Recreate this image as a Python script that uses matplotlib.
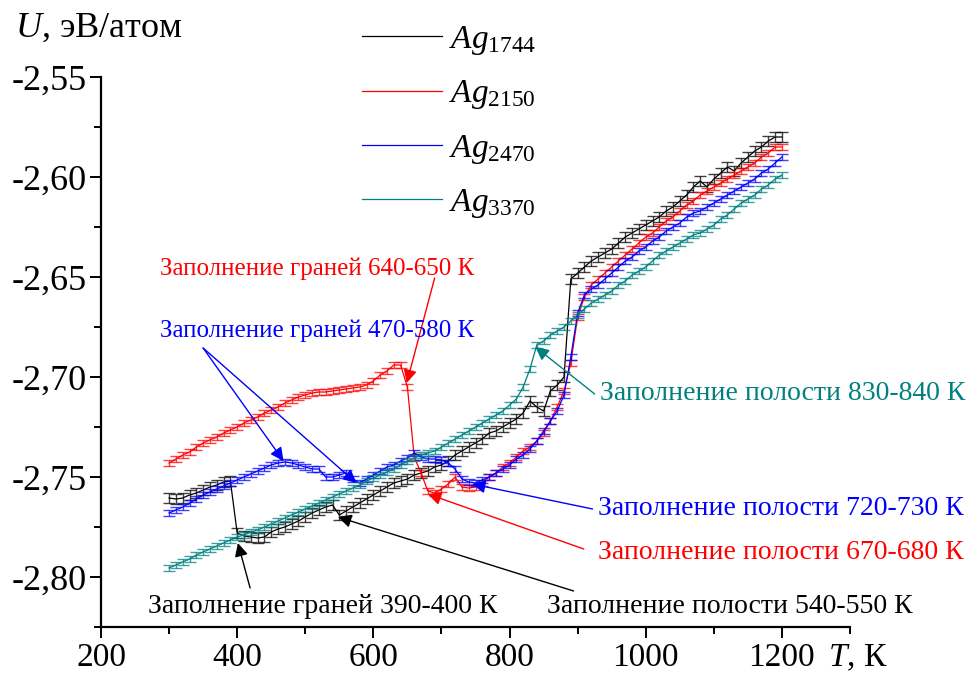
import matplotlib
matplotlib.use("Agg")
import matplotlib.pyplot as plt
from matplotlib.ticker import MultipleLocator, FuncFormatter

plt.rcParams['font.family'] = ['Liberation Serif', 'DejaVu Serif']
plt.rcParams['mathtext.fontset'] = 'custom'
plt.rcParams['mathtext.rm'] = 'Liberation Serif'
plt.rcParams['mathtext.it'] = 'Liberation Serif:italic'

# temperature grid, K
temperature = list(range(300, 1201, 10))

# potential energy, eV/atom
u_1744 = [
    -2.7605, -2.761, -2.7605, -2.759, -2.758, -2.7565, -2.755, -2.754, -2.7525, -2.752,
    -2.778, -2.7795, -2.780, -2.7805, -2.780, -2.7775, -2.776, -2.775, -2.7735, -2.772,
    -2.770, -2.768, -2.7665, -2.765, -2.764, -2.769, -2.767, -2.765, -2.763, -2.761,
    -2.759, -2.757, -2.755, -2.753, -2.752, -2.751, -2.749, -2.748, -2.747, -2.745,
    -2.744, -2.742, -2.739, -2.737, -2.735, -2.733, -2.731, -2.728, -2.727, -2.725,
    -2.723, -2.721, -2.718, -2.712, -2.715, -2.717, -2.707, -2.704, -2.700, -2.651,
    -2.648, -2.645, -2.642, -2.640, -2.638, -2.636, -2.633, -2.630, -2.628, -2.626,
    -2.624, -2.622, -2.620, -2.617, -2.615, -2.612, -2.609, -2.605, -2.602, -2.605,
    -2.601, -2.598, -2.595, -2.597, -2.593, -2.590, -2.587, -2.585, -2.582, -2.580,
    -2.580,
]
u_2150 = [
    -2.743, -2.741, -2.739, -2.7375, -2.735, -2.733, -2.7315, -2.730, -2.728, -2.7265,
    -2.725, -2.723, -2.7215, -2.720, -2.718, -2.7165, -2.715, -2.713, -2.7115, -2.710,
    -2.709, -2.708, -2.7075, -2.7075, -2.707, -2.7065, -2.706, -2.7055, -2.705, -2.704,
    -2.702, -2.699, -2.697, -2.694, -2.694, -2.705, -2.740, -2.748, -2.757, -2.758,
    -2.756, -2.7535, -2.750, -2.755, -2.7555, -2.755, -2.753, -2.750, -2.748, -2.745,
    -2.743, -2.740, -2.737, -2.735, -2.732, -2.728, -2.722, -2.715, -2.707, -2.693,
    -2.670, -2.660, -2.654, -2.651, -2.648, -2.645, -2.642, -2.639, -2.636, -2.633,
    -2.630, -2.628, -2.625, -2.622, -2.620, -2.617, -2.614, -2.612, -2.609, -2.607,
    -2.605, -2.603, -2.601, -2.599, -2.597, -2.595, -2.593, -2.590, -2.588, -2.585,
    -2.585,
]
u_2470 = [
    -2.768, -2.7665, -2.765, -2.763, -2.761, -2.759, -2.7575, -2.756, -2.7545, -2.753,
    -2.7515, -2.750, -2.7485, -2.747, -2.7455, -2.744, -2.743, -2.7425, -2.743, -2.744,
    -2.745, -2.746, -2.746, -2.750, -2.750, -2.749, -2.748, -2.751, -2.753, -2.751,
    -2.749, -2.747, -2.745, -2.744, -2.742, -2.7405, -2.738, -2.740, -2.741, -2.741,
    -2.7415, -2.743, -2.746, -2.751, -2.7525, -2.753, -2.7515, -2.750, -2.748, -2.746,
    -2.744, -2.741, -2.739, -2.736, -2.732, -2.727, -2.722, -2.717, -2.709, -2.690,
    -2.668, -2.659, -2.656, -2.654, -2.651, -2.648, -2.645, -2.642, -2.640, -2.637,
    -2.635, -2.632, -2.630, -2.627, -2.625, -2.623, -2.620, -2.618, -2.617, -2.615,
    -2.613, -2.611, -2.609, -2.607, -2.605, -2.603, -2.601, -2.598, -2.596, -2.593,
    -2.590,
]
u_3370 = [
    -2.7955, -2.794, -2.7925, -2.791, -2.789, -2.7875, -2.786, -2.7845, -2.783, -2.7815,
    -2.780, -2.779, -2.7775, -2.7765, -2.775, -2.7735, -2.772, -2.7705, -2.769, -2.7675,
    -2.766, -2.7645, -2.763, -2.7615, -2.760, -2.7585, -2.757, -2.7555, -2.754, -2.752,
    -2.7505, -2.749, -2.7475, -2.746, -2.744, -2.742, -2.7405, -2.739, -2.738, -2.737,
    -2.735, -2.733, -2.731, -2.729, -2.727, -2.725, -2.723, -2.721, -2.719, -2.717,
    -2.714, -2.711, -2.705, -2.696, -2.684, -2.682, -2.679, -2.677, -2.675, -2.672,
    -2.669, -2.666, -2.663, -2.661, -2.659, -2.657, -2.654, -2.652, -2.649, -2.647,
    -2.645, -2.642, -2.639, -2.637, -2.635, -2.633, -2.631, -2.629, -2.628, -2.626,
    -2.624, -2.621, -2.619, -2.616, -2.613, -2.611, -2.609, -2.606, -2.604, -2.601,
    -2.599,
]

# error bar half-heights, eV/atom
err_1744 = 0.0024
err_2150 = 0.0015
err_2470 = 0.0015
err_3370 = 0.0015

labels = ["$Ag_{1744}$", "$Ag_{2150}$", "$Ag_{2470}$", "$Ag_{3370}$"]
series = [u_1744, u_2150, u_2470, u_3370]
errors = [err_1744, err_2150, err_2470, err_3370]
colors = ["black", "red", "blue", "#008080"]

fig = plt.figure(figsize=(9.73, 6.77), dpi=100)
ax = fig.add_axes([101 / 973, 50 / 677, 749 / 973, 550 / 677])

for u, e, c, lab in zip(series, errors, colors, labels):
    ax.errorbar(temperature, u, yerr=e, fmt="none", ecolor=c, elinewidth=1.0,
                capsize=4, capthick=1.0, alpha=0.75)
    ax.plot(temperature, u, color=c, lw=0.9, label=lab)

ax.set_xlim(200, 1300)
ax.set_ylim(-2.825, -2.55)
ax.xaxis.set_major_locator(MultipleLocator(200))
ax.xaxis.set_minor_locator(MultipleLocator(100))
ax.yaxis.set_major_locator(MultipleLocator(0.05))
ax.yaxis.set_minor_locator(MultipleLocator(0.025))
ax.yaxis.set_major_formatter(FuncFormatter(lambda v, p: "{:.2f}".format(v).replace(".", ",")))
ax.spines["top"].set_visible(False)
ax.spines["right"].set_visible(False)
for s in ("left", "bottom"):
    ax.spines[s].set_linewidth(1.6)
ax.tick_params(which="major", direction="out", length=8, width=1.4)
ax.tick_params(which="minor", direction="out", length=5, width=1.4)
ax.tick_params(axis="x", labelsize=24)
ax.tick_params(axis="y", labelsize=26, pad=2)

fig.text(15 / 973, 1 - 28 / 677, "$U$, эВ/атом", fontsize=26, va="center", ha="left")
fig.text(828 / 973, 1 - 658 / 677, "$T$, К", fontsize=24, va="center", ha="left")

leg = ax.legend(loc="upper left", bbox_to_anchor=(332 / 973, 1 + 6 / 677),
                bbox_transform=fig.transFigure, frameon=False, fontsize=24,
                handlelength=2.4, handletextpad=0.2, labelspacing=0.64)

arrow = dict(arrowstyle="-|>", mutation_scale=20, lw=1.0, shrinkA=0, shrinkB=0)
fs = 18
fl = 20

# red: faces filling 640-650 K
ax.text(287, -2.6457, "Заполнение граней 640-650 К", color="red", fontsize=fs, va="center")
ax.annotate("", xy=(649, -2.703), xytext=(690, -2.6505), arrowprops=dict(arrow, color="red"))

# blue: faces filling 470-580 K
ax.text(287, -2.6768, "Заполнение граней 470-580 К", color="blue", fontsize=fs, va="center")
ax.annotate("", xy=(468, -2.742), xytext=(350, -2.6855), arrowprops=dict(arrow, color="blue"))
ax.annotate("", xy=(575, -2.753), xytext=(350, -2.6855), arrowprops=dict(arrow, color="blue"))

# teal: cavity filling 830-840 K
ax.text(933, -2.7083, "Заполнение полости 830-840 К", color="#008080", fontsize=fl, va="center")
ax.annotate("", xy=(838, -2.685), xytext=(925, -2.7085), arrowprops=dict(arrow, color="#008080"))

# blue: cavity filling 720-730 K
ax.text(930, -2.766, "Заполнение полости 720-730 К", color="blue", fontsize=fl, va="center")
ax.annotate("", xy=(745, -2.7535), xytext=(922, -2.766), arrowprops=dict(arrow, color="blue"))

# red: cavity filling 670-680 K
ax.text(930, -2.788, "Заполнение полости 670-680 К", color="red", fontsize=fl, va="center")
ax.annotate("", xy=(680, -2.7585), xytext=(909, -2.786), arrowprops=dict(arrow, color="red"))

# black: faces filling 390-400 K
ax.text(526, -2.815, "Заполнение граней 390-400 К", color="black", fontsize=fl, va="center", ha="center")
ax.annotate("", xy=(401, -2.783), xytext=(419, -2.8055), arrowprops=dict(arrow, color="black"))

# black: cavity filling 540-550 K
ax.text(1124, -2.815, "Заполнение полости 540-550 К", color="black", fontsize=fl, va="center", ha="center")
ax.annotate("", xy=(548, -2.770), xytext=(894, -2.807), arrowprops=dict(arrow, color="black"))

fig.savefig("out.png", dpi=100)
